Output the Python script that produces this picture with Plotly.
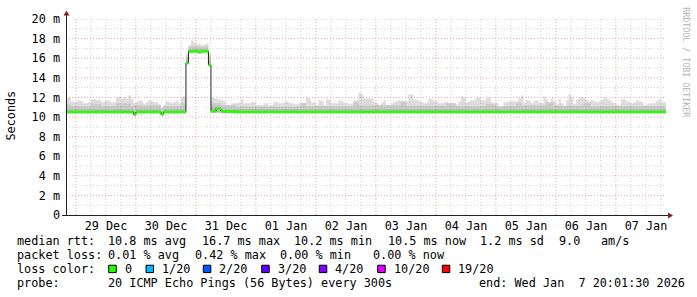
import plotly.graph_objects as go
import pandas as pd

# ---------------- data (hourly buckets, 28 Dec 20:00 .. 07 Jan 20:00) ----------------
bucket_start = "2025-12-28 20:00:00"
n_buckets = 240

median_ms = ([10.52]*27 + [10.25] + [10.52]*10 + [10.27] + [10.52]*9 +
             [15.5] + [16.7]*4 + [16.6] + [16.7]*3 + [15.3] +
             [10.58]*2 + [10.85]*2 + [10.6] + [10.55]*5 + [10.5]*172)

loss_20 = ([0]*3 + [1] + [0]*15 + [1] + [0]*42 + [1] + [0]*4 + [1] +
           [0]*88 + [1] + [0]*83)

smoke_min = ([10.33]*27 + [10.1] + [10.33]*10 + [10.15] + [10.33]*9 +
             [15.3] + [16.45]*8 + [15.1] + [10.4]*4 + [10.35]*178)

smoke_max = [
    12.0, 12.0, 11.6, 11.5, 11.6, 11.7, 11.6, 11.4, 11.4, 11.5,
    11.8, 11.8, 11.7, 11.7, 11.5, 11.6, 11.7, 11.6, 11.5, 11.5,
    12.0, 12.1, 11.9, 12.0, 11.9, 12.2, 11.8, 11.4, 11.5, 11.7,
    11.6, 11.3, 11.5, 11.7, 11.6, 11.5, 11.5, 11.3, 11.0, 11.3,
    11.6, 11.5, 11.4, 11.5, 11.6, 11.4, 12.0, 12.1,
    16.4, 17.3, 17.8, 17.6, 17.4, 17.5, 17.3, 17.4, 17.5, 16.5,
    12.0, 11.9, 11.9, 11.8, 11.7, 11.6, 11.2, 11.2, 11.4, 11.4,
    11.4, 11.5, 11.8, 11.4, 11.4, 11.4, 11.5, 11.5, 11.2, 11.2,
    11.2, 11.4, 11.4, 11.2, 11.2, 11.5, 11.5, 11.4, 11.4, 11.5,
    11.6, 11.4, 11.4, 11.3, 11.3, 11.4, 11.4, 11.4, 12.0, 11.9,
    11.5, 11.5, 11.2, 11.7, 11.6, 11.2, 11.8, 11.7, 11.4, 11.4,
    11.4, 11.7, 11.6, 11.4, 11.4, 11.3, 11.4, 11.7, 11.7, 12.5,
    12.3,
    11.9, 11.9, 11.9, 11.9, 11.5, 11.4, 11.1, 11.4, 11.7, 11.2,
    11.2, 11.4, 11.5, 11.6, 11.7, 11.6, 11.5, 11.6, 12.3, 12.3,
    11.8, 11.7, 11.6, 11.5, 11.4, 11.5, 11.9, 11.8, 11.6, 11.6,
    11.4, 11.4, 11.5, 11.5, 11.3, 11.3, 11.2, 11.3, 11.6, 12.1,
    12.0, 11.5, 11.6, 11.7, 11.7, 12.0, 12.0, 11.7, 11.7, 12.0,
    12.0, 11.5, 11.4, 11.4, 11.1, 11.1, 11.5, 11.5, 11.6,
    11.6, 11.6, 11.6, 11.9, 12.2, 11.4, 11.7, 11.6, 11.4, 11.6,
    11.7, 11.5, 11.4, 12.1, 11.8, 11.4, 11.9, 11.6, 11.3, 11.8,
    11.4, 11.1, 11.7, 12.3, 12.0, 11.3, 11.8, 12.0, 12.0, 12.0,
    11.7, 11.6, 11.7, 11.6, 11.5, 11.6, 11.7, 12.0, 11.9, 11.7,
    11.5, 11.4, 11.3, 11.2, 11.8, 11.8, 11.6, 11.5, 11.4, 11.5,
    11.7, 11.6, 11.5, 11.2, 11.3, 11.4, 11.4, 11.4, 11.6, 11.8,
    11.5, 11.5,
]

smoke_mid_lo = ([10.4]*27 + [10.2] + [10.4]*10 + [10.22] + [10.4]*9 +
                [15.4] + [16.55]*8 + [15.2] + [10.45]*4 + [10.42]*178)
smoke_mid_hi = ([11.3]*2 + [11.1]*8 + [11.3]*4 + [11.1]*6 + [11.4]*6 + [11.1] +
                [11.2]*11 + [10.9] + [11.1]*7 + [11.4]*2 +
                [16.1] + [17.2]*8 + [16.2] +
                [11.4]*4 + [11.2]*6 + [11.05]*26 + [11.4]*2 + [11.1]*19 + [11.5]*2 +
                [11.2]*17 + [11.6]*2 + [11.15]*16 + [11.4]*4 + [11.1]*12 + [11.3]*4 +
                [11.1]*8 + [11.4]*2 + [11.2]*10 + [11.5]*3 + [11.15]*12 + [11.4]*3 +
                [11.1]*30)
smoke_in_lo = ([10.44]*27 + [10.22] + [10.44]*10 + [10.24] + [10.44]*9 +
               [15.42] + [16.6]*8 + [15.22] + [10.48]*4 + [10.45]*178)
smoke_in_hi = ([10.8]*27 + [10.5] + [10.8]*10 + [10.5] + [10.8]*9 +
               [15.8] + [16.95]*8 + [15.7] + [11.05]*4 + [10.78]*178)

day_ticks = ["2025-12-29 12:00", "2025-12-30 12:00", "2025-12-31 12:00",
             "2026-01-01 12:00", "2026-01-02 12:00", "2026-01-03 12:00",
             "2026-01-04 12:00", "2026-01-05 12:00", "2026-01-06 12:00",
             "2026-01-07 12:00"]
day_labels = ["29 Dec", "30 Dec", "31 Dec", "01 Jan", "02 Jan", "03 Jan",
              "04 Jan", "05 Jan", "06 Jan", "07 Jan"]
y_ticks = [0, 2, 4, 6, 8, 10, 12, 14, 16, 18, 20]
y_labels = ["0", "2 m", "4 m", "6 m", "8 m", "10 m", "12 m", "14 m", "16 m", "18 m", "20 m"]

loss_levels = ["0", "1/20", "2/20", "3/20", "4/20", "10/20", "19/20"]
loss_colors = ["#26ff00", "#00b8ff", "#0059ff", "#5e00ff", "#7e00ff", "#dd00ff", "#ff0000"]

x_start = "2025-12-28 20:01:30"
x_end = "2026-01-07 20:01:30"

# ---------------- figure ----------------
L, R, T, B = 66, 31, 16, 82
WID, HEI = 697, 297
W = WID - L - R
H = HEI - T - B
MONO = "DejaVu Sans Mono"
FS = 11.8

starts = pd.date_range(bucket_start, periods=n_buckets, freq="h")
edges = list(starts) + [starts[-1] + pd.Timedelta(hours=1)]


def stepv(v):
    return list(v) + [v[-1]]


fig = go.Figure()


def band(lo, hi, color):
    fig.add_trace(go.Scatter(x=edges, y=stepv(lo), mode="lines", line=dict(width=0, shape="hv"),
                             hoverinfo="skip"))
    fig.add_trace(go.Scatter(x=edges, y=stepv(hi), mode="lines", line=dict(width=0, shape="hv"),
                             fill="tonexty", fillcolor=color, hoverinfo="skip"))


band(smoke_min, smoke_max, "#dddddd")
band(smoke_mid_lo, smoke_mid_hi, "#cacaca")
band(smoke_in_lo, smoke_in_hi, "#b7b7b7")

fig.add_trace(go.Scatter(x=edges, y=stepv(median_ms), mode="lines",
                         line=dict(width=1, color="#202020", shape="hv"), hoverinfo="skip"))

sw = 0.13
band([m - sw for m in median_ms], [m + sw for m in median_ms], loss_colors[0])

lx = [s + pd.Timedelta(minutes=30) for s, l in zip(starts, loss_20) if l > 0]
lb = [m - sw for m, l in zip(median_ms, loss_20) if l > 0]
lc = [loss_colors[l] for l in loss_20 if l > 0]
fig.add_trace(go.Bar(x=lx, y=[2 * sw] * len(lx), base=lb, width=3600000,
                     marker=dict(color=lc, line=dict(width=0)), hoverinfo="skip"))


def pxx(px):
    return (px - L) / W


def pyy(py):
    return (T + H - py) / H


shapes = []
GRID_RED = "rgba(222,79,79,0.5)"
GRID_GRAY = "rgba(150,150,150,0.45)"
DASH = "1px,2px"
# horizontal grid
for v in range(1, 21):
    col = GRID_RED if v % 2 == 0 else GRID_GRAY
    shapes.append(dict(type="line", xref="paper", yref="y", x0=0, x1=1, y0=v, y1=v,
                       line=dict(color=col, width=1, dash=DASH), layer="above"))
# vertical grid
for t in pd.date_range("2025-12-29 00:00", "2026-01-07 18:00", freq="6h"):
    col = GRID_RED if t.hour == 0 else GRID_GRAY
    shapes.append(dict(type="line", xref="x", yref="paper", x0=t, x1=t, y0=0, y1=1,
                       line=dict(color=col, width=1, dash=DASH), layer="above"))
# axes
axc = "#1f1f1f"
arc = "#801f1f"
shapes.append(dict(type="line", xref="paper", yref="paper", x0=pxx(66.5), x1=pxx(66.5),
                   y0=pyy(215.5), y1=pyy(11), line=dict(color=axc, width=1), layer="above"))
shapes.append(dict(type="line", xref="paper", yref="paper", x0=pxx(62), x1=pxx(669),
                   y0=pyy(215.5), y1=pyy(215.5), line=dict(color=axc, width=1), layer="above"))
shapes.append(dict(type="path", xref="paper", yref="paper",
                   path=f"M {pxx(63.5)} {pyy(12.5)} L {pxx(69.5)} {pyy(12.5)} L {pxx(66.5)} {pyy(7.5)} Z",
                   fillcolor=arc, line=dict(width=0), layer="above"))
shapes.append(dict(type="path", xref="paper", yref="paper",
                   path=f"M {pxx(668)} {pyy(212.5)} L {pxx(668)} {pyy(218.5)} L {pxx(673)} {pyy(215.5)} Z",
                   fillcolor=arc, line=dict(width=0), layer="above"))

# legend squares
sq_x = [108.7, 146, 203.3, 261.7, 319.3, 377.7, 442.3]
for sx, c in zip(sq_x, loss_colors):
    shapes.append(dict(type="rect", xref="paper", yref="paper",
                       x0=pxx(sx), x1=pxx(sx + 7.5), y0=pyy(273.5), y1=pyy(266),
                       fillcolor=c, line=dict(color="black", width=1)))


def ann(text, px, py, size=FS, color="black", **kw):
    d = dict(text=text.replace(" ", "\u00a0"), xref="paper", yref="paper",
             x=pxx(px), y=pyy(py), xanchor="left", yanchor="middle", showarrow=False,
             font=dict(family=MONO, size=size, color=color), borderpad=0)
    d.update(kw)
    return d


row1 = 241.8
row2 = 255.8
row3 = 269.8
row4 = 283.6
annotations = [
    ann("median rtt:", 16, row1),
    ann("10.8 ms avg", 107.3, row1),
    ann("16.7 ms max", 200.7, row1),
    ann("10.2 ms min", 293.3, row1),
    ann("10.5 ms now", 386.7, row1),
    ann("1.2 ms sd", 479.3, row1),
    ann("9.0", 558.3, row1),
    ann("am/s", 600, row1),
    ann("packet loss:", 16, row2),
    ann("0.01 % avg", 107.3, row2),
    ann("0.42 % max", 194, row2),
    ann("0.00 % min", 279.3, row2),
    ann("0.00 % now", 371.7, row2),
    ann("loss color:", 16, row3),
    ann("probe:", 16, row4),
    ann("20 ICMP Echo Pings (56 Bytes) every 300s", 107.3, row4),
    ann("end: Wed Jan  7 20:01:30 2026", 478.3, row4),
    ann("Seconds", 11, 114, xanchor="center", textangle=-90),
    ann("RRDTOOL / TOBI OETIKER", 686, 60, size=8.3, color="#b4b4b4", xanchor="center", textangle=90),
]
for sx, lab in zip(sq_x, loss_levels):
    annotations.append(ann(lab, sx + 15, row3))

fig.update_layout(
    width=WID, height=HEI,
    margin=dict(l=L, r=R, t=T, b=B, pad=0),
    paper_bgcolor="white", plot_bgcolor="white",
    showlegend=False, barmode="overlay",
    font=dict(family=MONO, size=FS, color="black"),
    xaxis=dict(range=[x_start, x_end], tickvals=day_ticks, ticktext=day_labels,
               showgrid=False, zeroline=False, showline=False, ticks="",
               ticklabelstandoff=2,
               tickfont=dict(family=MONO, size=FS, color="black")),
    yaxis=dict(range=[0, 20], tickvals=y_ticks, ticktext=y_labels,
               showgrid=False, zeroline=False, showline=False, ticks="",
               ticklabelstandoff=5,
               tickfont=dict(family=MONO, size=FS, color="black")),
    shapes=shapes,
    annotations=annotations,
)

fig.write_html("out.html")
